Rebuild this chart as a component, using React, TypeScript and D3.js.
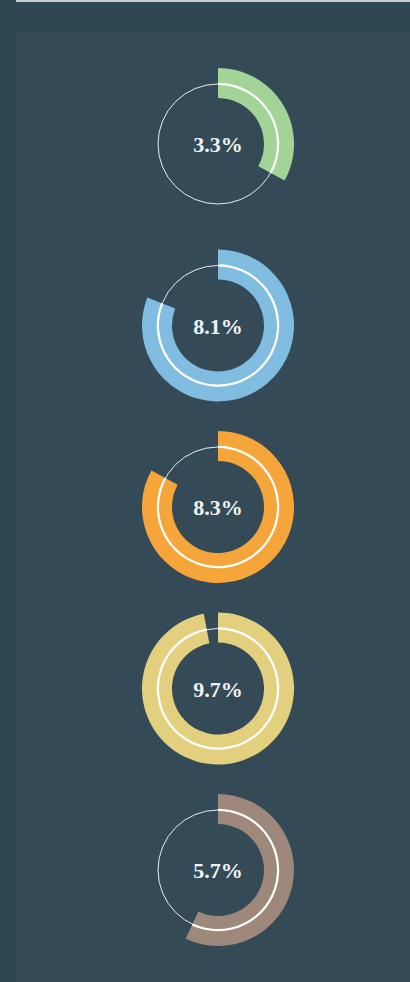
import React from "react";
import * as d3 from "d3";

const labels = ["3.3%", "8.1%", "8.3%", "9.7%", "5.7%"];
const values = [3.3, 8.1, 8.3, 9.7, 5.7];
const maxValue = 10;
const colors = ["#a3d497", "#80bde1", "#f6a53a", "#e3d07e", "#9e877b"];

const W = 410;
const H = 982;

export default function App() {
  const cx = 218;
  const y = d3.scalePoint<number>().domain(d3.range(values.length)).range([144, 870]);
  const angle = d3.scaleLinear().domain([0, maxValue]).range([0, 2 * Math.PI]);
  const arc = d3.arc<any>();
  return (
    <div style={{ position: "fixed", left: 0, top: 0 }}>
      <svg width={W} height={H} style={{ display: "block" }}>
        <rect x={0} y={0} width={W} height={H} fill="#2f4653" />
        <rect x={16} y={31} width={W - 16} height={H - 31} fill="#344b57" />
        <rect x={16} y={0} width={W - 16} height={2} fill="#c9cdd0" />
        {values.map((v, i) => {
          const cy = y(i)!;
          const end = angle(v);
          return (
            <g key={i} transform={`translate(${cx},${cy})`}>
              <path
                d={arc({ innerRadius: 46, outerRadius: 76, startAngle: 0, endAngle: end })!}
                fill={colors[i]}
              />
              <circle r={60} fill="none" stroke="#e8ecee" strokeWidth={1} />
              <path
                d={arc({ innerRadius: 59, outerRadius: 61.2, startAngle: 0, endAngle: end })!}
                fill="#ffffff"
              />
              <text
                x={0}
                y={8}
                textAnchor="middle"
                fontFamily="'Liberation Serif', serif"
                fontWeight="bold"
                fontSize={22}
                fill="#f2f2f2"
              >
                {labels[i]}
              </text>
            </g>
          );
        })}
      </svg>
    </div>
  );
}
